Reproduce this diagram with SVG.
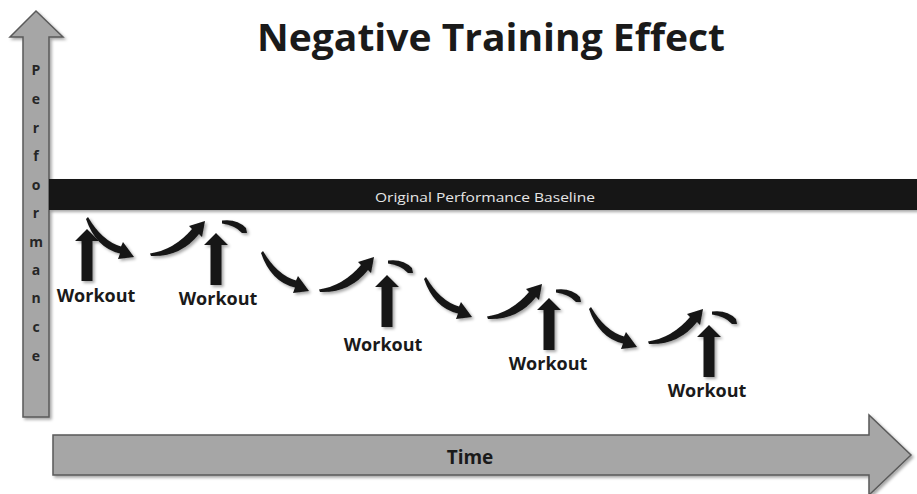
<svg xmlns="http://www.w3.org/2000/svg" xmlns:xlink="http://www.w3.org/1999/xlink" width="917" height="494" viewBox="0 0 917 494">
  <style>
    .axis { fill: #a6a6a6; stroke: #5a5a5a; stroke-width: 1.5; stroke-linejoin: miter; }
    .ink { fill: #151515; }
    .lbl { font-family: "Open Sans", "Liberation Sans", sans-serif; font-weight: bold; fill: #1a1a1a; }
    .work { font-size: 18px; text-anchor: middle; }
    .perf { font-size: 14px; text-anchor: middle; fill: #262626; }
  </style>
  <defs>
    <filter id="sh" x="-30%" y="-30%" width="160%" height="160%">
      <feDropShadow dx="2" dy="2" stdDeviation="1.5" flood-color="#000" flood-opacity="0.35"/>
    </filter>
    <path id="up" d="M0,0 L12,12 L5.5,12 L5.5,52 L-5.5,52 L-5.5,12 L-12,12 Z"/>
    <path id="rise" d="M-55,31.5 Q-31,28 -13,7 L-16,4 L0,-1 L-3,15 L-6,12 Q-24,35 -54,34 Z"/>
    <path id="fall" d="M0,0 Q14,24 33,29.5 L35,25 L46,40 L30,42 L32,36.5 Q8,31 -2,2 Z"/>
    <path id="dash" d="M0,-0.5 Q15,-2.5 24,7 L25,12 L20,12 Q13,4 0,2.5 Z"/>
  </defs>

  <g id="title">
    <text class="lbl" x="491" y="51" font-size="38" text-anchor="middle" textLength="468" lengthAdjust="spacingAndGlyphs" fill="#111">Negative Training Effect</text>
  </g>

  <g id="performance-axis" filter="url(#sh)">
    <path class="axis" d="M36,11 L63,37 L49,37 L49,417 L23,417 L23,37 L10,37 Z"/>
  </g>
  <g id="performance-label">
    <text class="lbl perf" x="36" y="75">P</text>
    <text class="lbl perf" x="36" y="104">e</text>
    <text class="lbl perf" x="36" y="133">r</text>
    <text class="lbl perf" x="36" y="161">f</text>
    <text class="lbl perf" x="36" y="190">o</text>
    <text class="lbl perf" x="36" y="218">r</text>
    <text class="lbl perf" x="36" y="247">m</text>
    <text class="lbl perf" x="36" y="275">a</text>
    <text class="lbl perf" x="36" y="303">n</text>
    <text class="lbl perf" x="36" y="332">c</text>
    <text class="lbl perf" x="36" y="361">e</text>
  </g>

  <g id="time-axis">
    <path class="axis" filter="url(#sh)" d="M53,435 L869,435 L869,415 L911,455 L869,495 L869,475 L53,475 Z"/>
    <text class="lbl" x="470" y="464" font-size="19" text-anchor="middle">Time</text>
  </g>

  <g id="baseline">
    <rect x="49" y="179" width="868" height="31" fill="#121212" filter="url(#sh)"/>
    <text x="485" y="202" font-family="'Open Sans', 'Liberation Sans', sans-serif" font-size="13" fill="#e6e6e6" text-anchor="middle" textLength="220" lengthAdjust="spacingAndGlyphs">Original Performance Baseline</text>
  </g>

  <g id="workout1">
    <use href="#up" class="ink" filter="url(#sh)" transform="translate(87,229)"/>
    <text class="lbl work" x="96" y="302">Workout</text>
  </g>
  <g id="workout2">
    <use href="#up" class="ink" filter="url(#sh)" transform="translate(216,233)"/>
    <text class="lbl work" x="218" y="305">Workout</text>
  </g>
  <g id="workout3">
    <use href="#up" class="ink" filter="url(#sh)" transform="translate(387,275)"/>
    <text class="lbl work" x="383" y="351">Workout</text>
  </g>
  <g id="workout4">
    <use href="#up" class="ink" filter="url(#sh)" transform="translate(549,298)"/>
    <text class="lbl work" x="548" y="370">Workout</text>
  </g>
  <g id="workout5">
    <use href="#up" class="ink" filter="url(#sh)" transform="translate(709,325)"/>
    <text class="lbl work" x="707" y="397">Workout</text>
  </g>

  <g id="connectors" class="ink" filter="url(#sh)">
    <use href="#fall" transform="translate(88,217)"/>
    <use href="#rise" transform="translate(205,222)"/>
    <use href="#dash" transform="translate(222,221)"/>
    <use href="#fall" transform="translate(263,251)"/>
    <use href="#rise" transform="translate(374,258)"/>
    <use href="#dash" transform="translate(388,261)"/>
    <use href="#fall" transform="translate(426,277)"/>
    <use href="#rise" transform="translate(542,285)"/>
    <use href="#dash" transform="translate(556,290)"/>
    <use href="#fall" transform="translate(591,307)"/>
    <use href="#rise" transform="translate(703,310)"/>
    <use href="#dash" transform="translate(712,312)"/>
  </g>
</svg>
